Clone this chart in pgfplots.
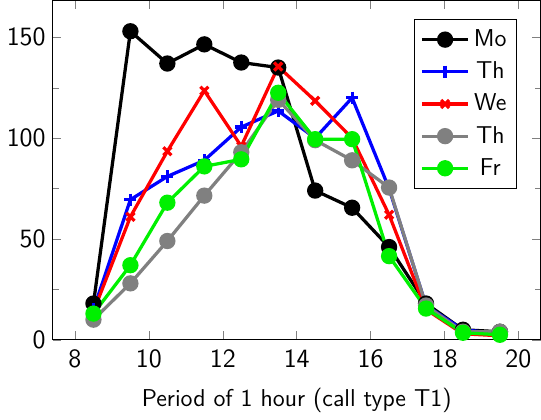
\documentclass[border=0pt]{standalone}
\usepackage{pgfplots}
\pgfplotsset{compat=1.18}
\renewcommand{\familydefault}{\sfdefault}
\definecolor{mygreen}{RGB}{0,240,0}
\begin{document}
\begin{tikzpicture}
\begin{axis}[
  scale only axis,
  width=240pt, height=167pt,
  xmin=7.4, xmax=20.6,
  ymin=0, ymax=168.3,
  xtick={8,10,...,20},
  ytick={0,50,100,150},
  minor ytick={25,75,125},
  /pgf/number format/assume math mode=true,
  tick label style={font=\fontsize{13}{15}\selectfont\sffamily},
  xticklabel style={yshift=-1.5pt},
  label style={font=\large},
  xlabel style={yshift=-3pt},
  xlabel={Period of 1 hour (call type T1)},
  legend style={font=\large, at={(0.952,0.945)}, anchor=north east, row sep=2pt, inner ysep=3pt},
  legend cell align=center,
  legend image code/.code={
    \draw[mark repeat=2,mark phase=2] plot coordinates {(0cm,0cm) (0.4cm,0cm) (0.8cm,0cm)};
  },
  every axis plot/.append style={line width=1.6pt},
]
\addplot[black, mark=*, mark size=3.2pt] coordinates {
(8.5,18) (9.5,153) (10.5,137) (11.5,146.5) (12.5,137.5) (13.5,135) (14.5,74) (15.5,65.5) (16.5,46) (17.5,18) (18.5,5) (19.5,4)};
\addlegendentry{Mo}
\addplot[blue, mark=+, mark size=3pt] coordinates {
(8.5,15) (9.5,69.5) (10.5,81) (11.5,89) (12.5,105.5) (13.5,113.5) (14.5,100) (15.5,120) (16.5,75) (17.5,17) (18.5,5) (19.5,3)};
\addlegendentry{Th}
\addplot[red, mark=x, mark size=2.8pt] coordinates {
(8.5,14) (9.5,61) (10.5,93.5) (11.5,123.5) (12.5,96) (13.5,135.5) (14.5,118.5) (15.5,100) (16.5,62) (17.5,15) (18.5,3) (19.5,2)};
\addlegendentry{We}
\addplot[gray, mark=*, mark size=3.2pt] coordinates {
(8.5,10) (9.5,28) (10.5,49) (11.5,71.5) (12.5,93) (13.5,119) (14.5,99) (15.5,89) (16.5,75.5) (17.5,17) (18.5,4) (19.5,4)};
\addlegendentry{Th}
\addplot[mygreen, mark=*, mark size=3.2pt] coordinates {
(8.5,13) (9.5,37) (10.5,68) (11.5,86) (12.5,89.5) (13.5,122.5) (14.5,99.5) (15.5,99.5) (16.5,41.5) (17.5,15.5) (18.5,3.5) (19.5,2.5)};
\addlegendentry{Fr}
\end{axis}
\end{tikzpicture}
\end{document}
